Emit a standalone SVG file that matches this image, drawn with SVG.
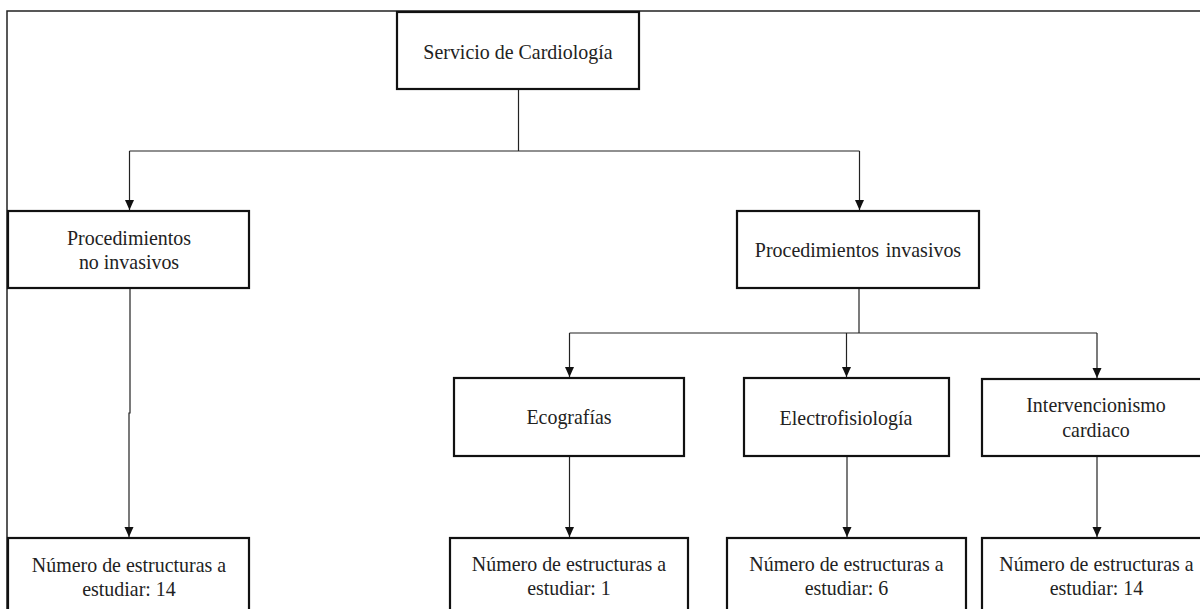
<svg xmlns="http://www.w3.org/2000/svg" width="1200" height="609" viewBox="0 0 1200 609">
<style>
.box{fill:#fff;stroke:#111;stroke-width:2.2}
.t{font-family:"Liberation Serif","Times New Roman",serif;font-size:21px;fill:#222;text-anchor:middle}
.c{fill:none;stroke:#222;stroke-width:1.2}
.frame{fill:none;stroke:#222;stroke-width:1.5}
</style>
<defs>
<marker id="ah" markerUnits="userSpaceOnUse" markerWidth="10" markerHeight="10" viewBox="0 0 10 10" refX="10" refY="5" orient="auto">
<path d="M0,0.5 L10,5 L0,9.5 z" fill="#111"/>
</marker>
</defs>
<rect width="1200" height="609" fill="#fff"/>
<path class="frame" d="M7,609 V11 H1200"/>
<g id="connectors">
<path class="c" d="M518.5,89 V151"/>
<path class="c" d="M129.5,151 H859.5"/>
<path class="c" d="M129.5,151 V210" marker-end="url(#ah)"/>
<path class="c" d="M859.5,151 V210" marker-end="url(#ah)"/>
<path class="c" d="M130,288 V413 H129 V537" marker-end="url(#ah)"/>
<path class="c" d="M859,288 V333"/>
<path class="c" d="M569.5,333 H1097"/>
<path class="c" d="M569.5,333 V377" marker-end="url(#ah)"/>
<path class="c" d="M846.5,333 V377" marker-end="url(#ah)"/>
<path class="c" d="M1097,333 V378" marker-end="url(#ah)"/>
<path class="c" d="M569.5,456 V537" marker-end="url(#ah)"/>
<path class="c" d="M847,456 V537" marker-end="url(#ah)"/>
<path class="c" d="M1097,456 V537" marker-end="url(#ah)"/>
</g>
<g id="n-servicio">
<rect class="box" x="397" y="12" width="242" height="77"/>
<text class="t" transform="translate(518,58.5) scale(0.95,1)">Servicio de Cardiología</text>
</g>
<g id="n-noinvasivos">
<rect class="box" x="8" y="211" width="241" height="77"/>
<text class="t" transform="translate(129,245) scale(0.95,1)">Procedimientos</text>
<text class="t" transform="translate(129,269) scale(0.95,1)">no invasivos</text>
</g>
<g id="n-invasivos">
<rect class="box" x="737" y="211" width="242" height="77"/>
<text class="t" transform="translate(858,257) scale(0.95,1)" word-spacing="2">Procedimientos invasivos</text>
</g>
<g id="n-ecografias">
<rect class="box" x="454" y="378" width="230" height="78"/>
<text class="t" transform="translate(569,424) scale(0.95,1)">Ecografías</text>
</g>
<g id="n-electro">
<rect class="box" x="744" y="378" width="205" height="78"/>
<text class="t" transform="translate(846,425) scale(0.95,1)">Electrofisiología</text>
</g>
<g id="n-interv">
<rect class="box" x="982" y="379" width="240" height="77"/>
<text class="t" transform="translate(1096,412) scale(0.95,1)">Intervencionismo</text>
<text class="t" transform="translate(1096,437) scale(0.95,1)">cardiaco</text>
</g>
<g id="n-num1">
<rect class="box" x="8" y="538" width="241" height="90"/>
<text class="t" transform="translate(129,572) scale(0.95,1)">Número de estructuras a</text>
<text class="t" transform="translate(129,596) scale(0.95,1)">estudiar: 14</text>
</g>
<g id="n-num2">
<rect class="box" x="450" y="538" width="238" height="90"/>
<text class="t" transform="translate(569,571) scale(0.95,1)">Número de estructuras a</text>
<text class="t" transform="translate(569,595) scale(0.95,1)">estudiar: 1</text>
</g>
<g id="n-num3">
<rect class="box" x="727" y="538" width="239" height="90"/>
<text class="t" transform="translate(846.5,571) scale(0.95,1)">Número de estructuras a</text>
<text class="t" transform="translate(846.5,595) scale(0.95,1)">estudiar: 6</text>
</g>
<g id="n-num4">
<rect class="box" x="982" y="538" width="240" height="90"/>
<text class="t" transform="translate(1096.5,571) scale(0.95,1)">Número de estructuras a</text>
<text class="t" transform="translate(1096.5,595) scale(0.95,1)">estudiar: 14</text>
</g>
</svg>
